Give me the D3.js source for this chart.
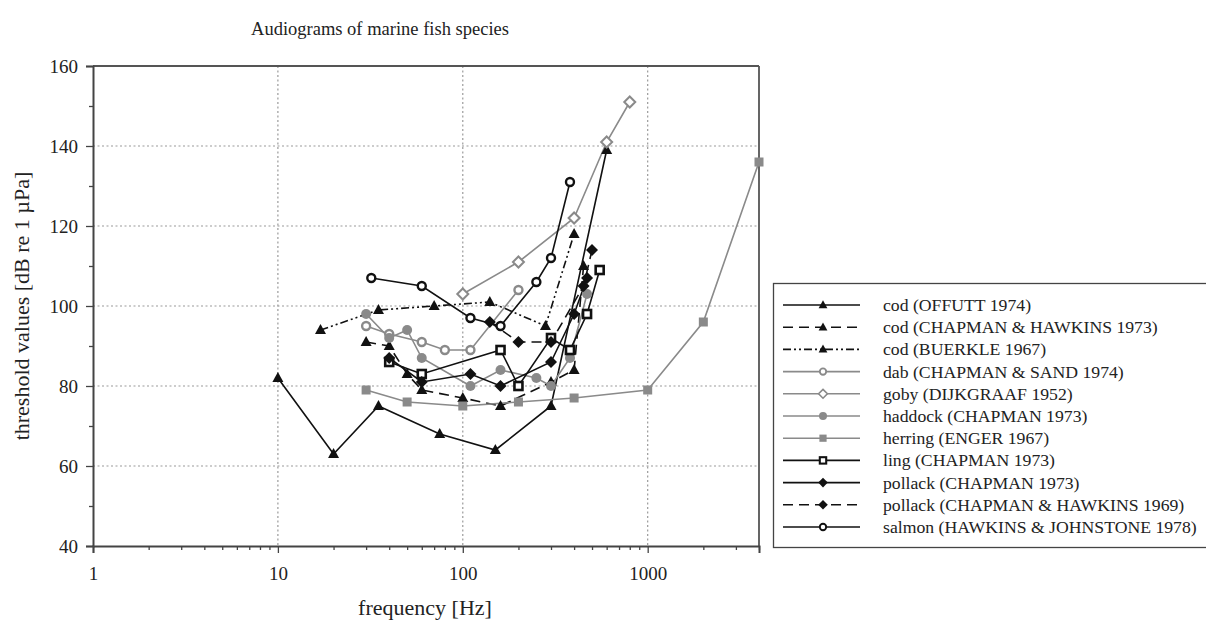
<!DOCTYPE html>
<html>
<head>
<meta charset="utf-8">
<script src="https://cdn.jsdelivr.net/npm/d3@7/dist/d3.min.js"></script>
<style>
  html, body { margin: 0; padding: 0; background: #fff; }
  svg { display: block; }
  svg text { font-family: "Liberation Serif", "Times New Roman", "DejaVu Serif", serif; }
</style>
</head>
<body>
<svg id="chart" width="1206" height="623"></svg>
<script>
// ---- Data ----
const codOffuttF = [10, 20, 35, 75, 150, 300, 600];
const codOffuttDb = [82, 63, 75, 68, 64, 75, 139];
const codChapmanHawkinsF = [30, 40, 50, 60, 100, 160, 300, 400, 450];
const codChapmanHawkinsDb = [91, 90, 83, 79, 77, 75, 81, 84, 110];
const codBuerkleF = [17, 35, 70, 140, 280, 400];
const codBuerkleDb = [94, 99, 100, 101, 95, 118];
const dabF = [30, 40, 60, 80, 110, 200];
const dabDb = [95, 93, 91, 89, 89, 104];
const gobyF = [100, 200, 400, 600, 800];
const gobyDb = [103, 111, 122, 141, 151];
const haddockF = [30, 40, 50, 60, 110, 160, 250, 300, 380, 470];
const haddockDb = [98, 92, 94, 87, 80, 84, 82, 80, 87, 103];
const herringF = [30, 50, 100, 200, 400, 1000, 2000, 4000];
const herringDb = [79, 76, 75, 76, 77, 79, 96, 136];
const lingF = [40, 60, 160, 200, 300, 380, 470, 550];
const lingDb = [86, 83, 89, 80, 92, 89, 98, 109];
const pollackChapmanF = [40, 60, 110, 160, 300, 400, 470];
const pollackChapmanDb = [87, 81, 83, 80, 86, 98, 107];
const pollackChapmanHawkinsF = [140, 200, 300, 450, 500];
const pollackChapmanHawkinsDb = [96, 91, 91, 105, 114];
const salmonF = [32, 60, 110, 160, 250, 300, 380];
const salmonDb = [107, 105, 97, 95, 106, 112, 131];

const legendLabels = [
  "cod (OFFUTT 1974)",
  "cod (CHAPMAN & HAWKINS 1973)",
  "cod (BUERKLE 1967)",
  "dab (CHAPMAN & SAND 1974)",
  "goby (DIJKGRAAF 1952)",
  "haddock (CHAPMAN 1973)",
  "herring (ENGER 1967)",
  "ling (CHAPMAN 1973)",
  "pollack (CHAPMAN 1973)",
  "pollack (CHAPMAN & HAWKINS 1969)",
  "salmon (HAWKINS & JOHNSTONE 1978)"
];
const xTickValues = [1, 10, 100, 1000];
const yTickValues = [40, 60, 80, 100, 120, 140, 160];
const titleText = "Audiograms of marine fish species";
const xLabel = "frequency [Hz]";
const yLabel = "threshold values [dB re 1 \u00B5Pa]";

// ---- Styles ----
const FONT = "Liberation Serif, Times New Roman, serif";
const BLACK = "#111";
const GRAY = "#8a8a8a";
const DASH = "10,6";
const DASHDOT = "8,3,2,3,2,3";

const series = [
  {f: codOffuttF, v: codOffuttDb, color: BLACK, dash: null, marker: "triangle"},
  {f: codChapmanHawkinsF, v: codChapmanHawkinsDb, color: BLACK, dash: DASH, marker: "triangle"},
  {f: codBuerkleF, v: codBuerkleDb, color: BLACK, dash: DASHDOT, marker: "triangle"},
  {f: dabF, v: dabDb, color: GRAY, dash: null, marker: "opencircle"},
  {f: gobyF, v: gobyDb, color: GRAY, dash: null, marker: "opendiamond"},
  {f: haddockF, v: haddockDb, color: GRAY, dash: null, marker: "circle"},
  {f: herringF, v: herringDb, color: GRAY, dash: null, marker: "square"},
  {f: lingF, v: lingDb, color: BLACK, dash: null, marker: "opensquare"},
  {f: pollackChapmanF, v: pollackChapmanDb, color: BLACK, dash: null, marker: "diamond"},
  {f: pollackChapmanHawkinsF, v: pollackChapmanHawkinsDb, color: BLACK, dash: DASH, marker: "diamond"},
  {f: salmonF, v: salmonDb, color: BLACK, dash: null, marker: "opencircle"}
].map((s, i) => Object.assign(s, {label: legendLabels[i]}));

// ---- Layout ----
const svg = d3.select("#chart");
const L = 93, R = 759, T = 66, B = 546;
const x = d3.scaleLog().domain([1, 4000]).range([L, R]);
const y = d3.scaleLinear().domain([40, 160]).range([B, T]);

// title
svg.append("text").attr("x", 380).attr("y", 35).attr("text-anchor", "middle")
  .attr("font-family", FONT).attr("font-size", 18.5).attr("fill", "#222").text(titleText);

// grid
const grid = svg.append("g").attr("stroke", "#9a9a9a").attr("stroke-width", 1.2)
  .attr("stroke-dasharray", "2,2.5");
yTickValues.filter(d => d > 40 && d < 160).forEach(d => {
  grid.append("line").attr("x1", L).attr("x2", R).attr("y1", y(d)).attr("y2", y(d));
});
[10, 100, 1000].forEach(d => {
  grid.append("line").attr("x1", x(d)).attr("x2", x(d)).attr("y1", T).attr("y2", B);
});

// frame top/right
svg.append("line").attr("x1", L).attr("x2", R).attr("y1", T).attr("y2", T)
  .attr("stroke", "#555").attr("stroke-width", 1.8);
svg.append("line").attr("x1", R).attr("x2", R).attr("y1", T).attr("y2", B)
  .attr("stroke", "#555").attr("stroke-width", 1.8);

// y axis
const yAxis = d3.axisLeft(y).tickValues(yTickValues).tickSize(7).tickPadding(8)
  .tickFormat(d3.format("d"));
const gy = svg.append("g").attr("transform", `translate(${L},0)`).call(yAxis);
gy.attr("font-family", FONT);
gy.selectAll("text").attr("font-size", 19).attr("fill", "#222").attr("font-family", FONT);
gy.select(".domain").attr("stroke", "#444").attr("stroke-width", 2);
gy.selectAll(".tick line").attr("stroke", "#444").attr("stroke-width", 1.3);
const yMinor = d3.axisLeft(y).tickValues([50, 70, 90, 110, 130, 150]).tickSize(4).tickFormat("");
const gym = svg.append("g").attr("transform", `translate(${L},0)`).call(yMinor);
gym.select(".domain").remove();
gym.selectAll(".tick line").attr("stroke", "#444").attr("stroke-width", 1.3);

// x axis
const xAxis = d3.axisBottom(x).tickValues(xTickValues).tickSize(7).tickPadding(14)
  .tickFormat(d3.format("d"));
const gx = svg.append("g").attr("transform", `translate(0,${B})`).call(xAxis);
gx.attr("font-family", FONT);
gx.selectAll("text").attr("font-size", 19).attr("fill", "#222").attr("font-family", FONT);
gx.select(".domain").attr("stroke", "#444").attr("stroke-width", 2);
gx.selectAll(".tick line").attr("stroke", "#444").attr("stroke-width", 1.3);
const minorX = [];
[1, 10, 100, 1000].forEach(dec => { for (let k = 2; k <= 9; k++) if (dec * k <= 4000) minorX.push(dec * k); });
const xMinor = d3.axisBottom(x).tickValues(minorX).tickSize(4).tickFormat("");
const gxm = svg.append("g").attr("transform", `translate(0,${B})`).call(xMinor);
gxm.select(".domain").remove();
gxm.selectAll(".tick line").attr("stroke", "#444").attr("stroke-width", 1.3);

// axis labels
svg.append("text").attr("x", 425).attr("y", 615).attr("text-anchor", "middle")
  .attr("font-family", FONT).attr("font-size", 22).attr("fill", "#222").text(xLabel);
svg.append("text").attr("transform", "translate(29,306) rotate(-90)").attr("text-anchor", "middle")
  .attr("font-family", FONT).attr("font-size", 22).attr("fill", "#222").text(yLabel);

// markers
function drawMarker(g, type, cx, cy, color, scale) {
  const s = scale || 1;
  if (type === "triangle") {
    const h = 10 * s, w = 11 * s;
    g.append("path").attr("d", `M${cx},${cy - h * 0.6}L${cx + w / 2},${cy + h * 0.4}L${cx - w / 2},${cy + h * 0.4}Z`)
      .attr("fill", color);
  } else if (type === "opencircle") {
    g.append("circle").attr("cx", cx).attr("cy", cy).attr("r", 4 * s)
      .attr("fill", "#fff").attr("stroke", color).attr("stroke-width", 2.4 * s);
  } else if (type === "circle") {
    g.append("circle").attr("cx", cx).attr("cy", cy).attr("r", 5 * s).attr("fill", color);
  } else if (type === "diamond") {
    const r = 6 * s;
    g.append("path").attr("d", `M${cx},${cy - r}L${cx + r},${cy}L${cx},${cy + r}L${cx - r},${cy}Z`).attr("fill", color);
  } else if (type === "opendiamond") {
    const r = 5.5 * s;
    g.append("path").attr("d", `M${cx},${cy - r}L${cx + r},${cy}L${cx},${cy + r}L${cx - r},${cy}Z`)
      .attr("fill", "#fff").attr("stroke", color).attr("stroke-width", 2 * s);
  } else if (type === "square") {
    const a = 9 * s;
    g.append("rect").attr("x", cx - a / 2).attr("y", cy - a / 2).attr("width", a).attr("height", a).attr("fill", color);
  } else if (type === "opensquare") {
    const a = 8 * s;
    g.append("rect").attr("x", cx - a / 2).attr("y", cy - a / 2).attr("width", a).attr("height", a)
      .attr("fill", "#fff").attr("stroke", color).attr("stroke-width", 2.6 * s);
  }
}

// series
const line = d3.line().x(d => x(d[0])).y(d => y(d[1]));
const plot = svg.append("g");
series.forEach(s => {
  const pts = s.f.map((f, i) => [f, s.v[i]]);
  plot.append("path").attr("d", line(pts)).attr("fill", "none")
    .attr("stroke", s.color).attr("stroke-width", 1.6)
    .attr("stroke-dasharray", s.dash);
});
series.forEach(s => {
  const g = plot.append("g");
  s.f.forEach((f, i) => drawMarker(g, s.marker, x(f), y(s.v[i]), s.color, 1));
});

// legend
const lg = svg.append("g");
lg.append("rect").attr("x", 773.5).attr("y", 283.5).attr("width", 440).attr("height", 264)
  .attr("fill", "#fff").attr("stroke", "#444").attr("stroke-width", 1.3);
series.forEach((s, i) => {
  const cy = 305 + i * 22.2;
  lg.append("line").attr("x1", 783).attr("x2", 860).attr("y1", cy).attr("y2", cy)
    .attr("stroke", s.color).attr("stroke-width", 1.6).attr("stroke-dasharray", s.dash);
  drawMarker(lg, s.marker, 823, cy, s.color, 0.8);
  lg.append("text").attr("x", 883).attr("y", cy + 6).attr("font-size", 17.7)
    .attr("font-family", FONT).attr("fill", "#222").text(s.label);
});
</script>
</body>
</html>
